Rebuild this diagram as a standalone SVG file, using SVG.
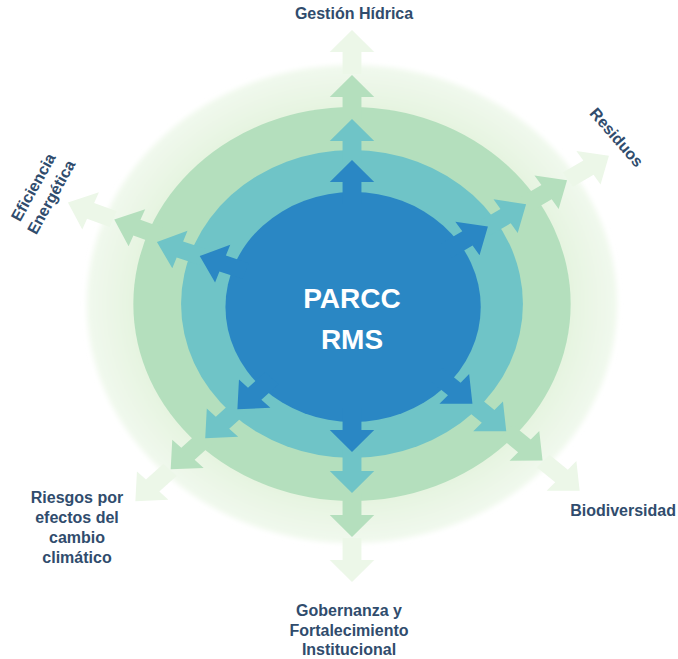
<svg xmlns="http://www.w3.org/2000/svg" xmlns:xlink="http://www.w3.org/1999/xlink" width="678" height="659" viewBox="0 0 678 659">
<style>
.lbl{font-family:"Liberation Sans",Arial,sans-serif;font-weight:bold;font-size:16px;fill:#304c6d;text-anchor:middle}
.ctr{font-family:"Liberation Sans",Arial,sans-serif;font-weight:bold;font-size:28px;fill:#ffffff;text-anchor:middle}
.dk{fill:#2a87c4}
.tl{fill:#6fc4c7}
.gr{fill:#b4dfbd}
.fa{fill:#ecf7e8}
</style>
<defs>
<radialGradient id="og" cx="0.5" cy="0.5" r="0.5">
<stop offset="0.8" stop-color="#e4f3de"/>
<stop offset="1" stop-color="#f1f9ee"/>
</radialGradient>
<filter id="soft" x="-10%" y="-10%" width="120%" height="120%"><feGaussianBlur stdDeviation="2.5"/></filter>
<path id="arr" d="M0,0 L20,22 L8.5,22 L8.5,44 L-8.5,44 L-8.5,22 L-20,22 Z"/>
</defs>
<rect width="678" height="659" fill="#ffffff"/>
<g id="rings" transform="translate(352,304) scale(1.11,1)">
<circle r="239" fill="url(#og)" filter="url(#soft)"/>
<circle r="197" class="gr"/>
<circle r="154" class="tl"/>
<circle cx="1" cy="3" r="115" class="dk"/>
</g>
<g id="connectors" transform="translate(352,306) scale(1.11,1)">
<g id="arrows-gestion" transform="rotate(0)">
<use xlink:href="#arr" class="fa" transform="translate(0,-276)"/>
<use xlink:href="#arr" class="gr" transform="translate(0,-231)"/>
<use xlink:href="#arr" class="tl" transform="translate(0,-187)"/>
<use xlink:href="#arr" class="dk" transform="translate(0,-146)"/>
</g>
<g id="arrows-residuos" transform="rotate(57)">
<use xlink:href="#arr" class="fa" transform="translate(0,-276)"/>
<use xlink:href="#arr" class="gr" transform="translate(0,-231)"/>
<use xlink:href="#arr" class="tl" transform="translate(0,-187)"/>
<use xlink:href="#arr" class="dk" transform="translate(0,-146)"/>
</g>
<g id="arrows-eficiencia" transform="rotate(-70)">
<use xlink:href="#arr" class="fa" transform="rotate(2) translate(0,-276)"/>
<use xlink:href="#arr" class="gr" transform="rotate(2) translate(0,-231)"/>
<use xlink:href="#arr" class="tl" transform="translate(0,-187)"/>
<use xlink:href="#arr" class="dk" transform="translate(0,-146)"/>
</g>
<g id="arrows-riesgos" transform="rotate(-135)">
<use xlink:href="#arr" class="fa" transform="translate(0,-276)"/>
<use xlink:href="#arr" class="gr" transform="translate(0,-231)"/>
<use xlink:href="#arr" class="tl" transform="translate(0,-187)"/>
<use xlink:href="#arr" class="dk" transform="translate(0,-146)"/>
</g>
<g id="arrows-gobernanza" transform="rotate(180)">
<use xlink:href="#arr" class="fa" transform="translate(0,-276)"/>
<use xlink:href="#arr" class="gr" transform="translate(0,-231)"/>
<use xlink:href="#arr" class="tl" transform="translate(0,-187)"/>
<use xlink:href="#arr" class="dk" transform="translate(0,-146)"/>
</g>
<g id="arrows-biodiversidad" transform="rotate(132)">
<use xlink:href="#arr" class="fa" transform="translate(0,-276)"/>
<use xlink:href="#arr" class="gr" transform="translate(0,-231)"/>
<use xlink:href="#arr" class="tl" transform="translate(0,-187)"/>
<use xlink:href="#arr" class="dk" transform="translate(0,-146)"/>
</g>
</g>
<g id="node-center">
<text class="ctr" x="352" y="308">PARCC</text>
<text class="ctr" x="352" y="349">RMS</text>
</g>
<g id="node-gestion-hidrica">
<text class="lbl" x="354" y="19">Gestión Hídrica</text>
</g>
<g id="node-residuos">
<text class="lbl" transform="translate(617,137) rotate(49)" y="6">Residuos</text>
</g>
<g id="node-eficiencia">
<g transform="translate(42,192) rotate(-61)">
<text class="lbl" y="-4.5">Eficiencia</text>
<text class="lbl" y="16">Energética</text>
</g>
</g>
<g id="node-riesgos">
<text class="lbl" x="77" y="503">Riesgos por</text>
<text class="lbl" x="77" y="523">efectos del</text>
<text class="lbl" x="77" y="543">cambio</text>
<text class="lbl" x="77" y="563">climático</text>
</g>
<g id="node-biodiversidad">
<text class="lbl" x="676" y="516" style="text-anchor:end">Biodiversidad</text>
</g>
<g id="node-gobernanza">
<text class="lbl" x="349" y="616">Gobernanza y</text>
<text class="lbl" x="349" y="636">Fortalecimiento</text>
<text class="lbl" x="349" y="655">Institucional</text>
</g>
</svg>
